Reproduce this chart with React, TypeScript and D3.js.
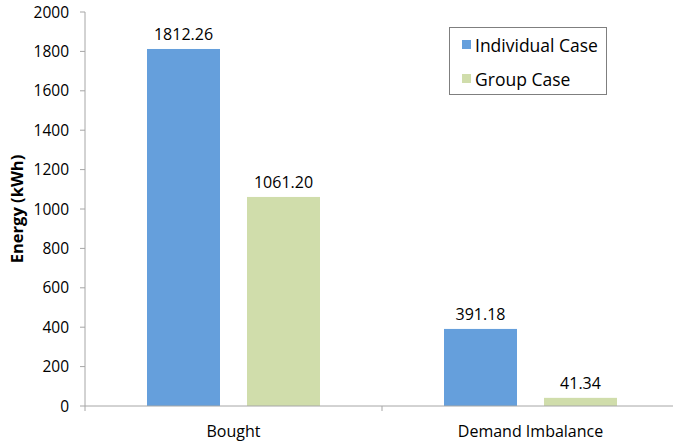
import React from "react";
import * as d3 from "d3";

const categories = ["Bought", "Demand Imbalance"];
const seriesNames = ["Individual Case", "Group Case"];
const individualCase = [1812.26, 391.18];
const groupCase = [1061.2, 41.34];
const yTicks = [0, 200, 400, 600, 800, 1000, 1200, 1400, 1600, 1800, 2000];

const colors = ["#659fdc", "#d0ddab"];
const font = "'Open Sans', sans-serif";

export default function App() {
  const width = 673;
  const height = 442;
  const left = 85;
  const right = 679;
  const top = 12;
  const bottom = 406;

  const y = d3.scaleLinear().domain([0, 2000]).range([bottom, top]);
  const x = d3.scaleBand<string>().domain(categories).range([left, right]).padding(0);
  const inner = d3
    .scaleBand<string>()
    .domain(seriesNames)
    .range([0, x.bandwidth()])
    .paddingInner(0.27)
    .paddingOuter(0.62);

  const series = [individualCase, groupCase];
  const boundaries = [left, ...categories.map((c) => (x(c) as number) + x.bandwidth())];

  return (
    <svg width={width} height={height} style={{ position: "absolute", left: 0, top: 0 }}>
      <rect width={width} height={height} fill="#fff" />
      {/* value axis */}
      <line x1={left} x2={left} y1={top} y2={bottom} stroke="#a6a6a6" />
      {yTicks.map((t) => (
        <g key={t}>
          <line x1={left - 5} x2={left} y1={y(t)} y2={y(t)} stroke="#a6a6a6" />
          <text
            x={left - 16}
            y={y(t)}
            dy="0.36em"
            textAnchor="end"
            fontFamily={font}
            fontSize={15.5}
            fill="#000"
          >
            {t}
          </text>
        </g>
      ))}
      <text
        transform={`translate(23,${(top + bottom) / 2}) rotate(-90)`}
        textAnchor="middle"
        fontFamily={font}
        fontWeight="bold"
        fontSize={16.5}
      >
        Energy (kWh)
      </text>
      {/* bars */}
      {categories.map((c, i) =>
        seriesNames.map((s, j) => {
          const v = series[j][i];
          const bx = (x(c) as number) + (inner(s) as number);
          return (
            <g key={c + s}>
              <rect x={bx} y={y(v)} width={inner.bandwidth()} height={bottom - y(v)} fill={colors[j]} />
              <text
                x={bx + inner.bandwidth() / 2}
                y={y(v) - 9}
                textAnchor="middle"
                fontFamily={font}
                fontSize={16}
              >
                {v.toFixed(2)}
              </text>
            </g>
          );
        })
      )}
      {/* category axis */}
      <line x1={left} x2={right} y1={bottom} y2={bottom} stroke="#a6a6a6" />
      {boundaries.map((bx, i) => (
        <line key={i} x1={bx} x2={bx} y1={bottom} y2={bottom + 5} stroke="#a6a6a6" />
      ))}
      {categories.map((c) => (
        <text
          key={c}
          x={(x(c) as number) + x.bandwidth() / 2}
          y={437}
          textAnchor="middle"
          fontFamily={font}
          fontSize={16}
        >
          {c}
        </text>
      ))}
      {/* legend */}
      <rect x={449.5} y={27.5} width={157} height={67} fill="#fff" stroke="#7f7f7f" />
      {seriesNames.map((s, j) => (
        <g key={s}>
          <rect x={462} y={40 + j * 34} width={9} height={9} fill={colors[j]} />
          <text x={475} y={52 + j * 34} fontFamily={font} fontSize={17.5}>
            {s}
          </text>
        </g>
      ))}
    </svg>
  );
}
